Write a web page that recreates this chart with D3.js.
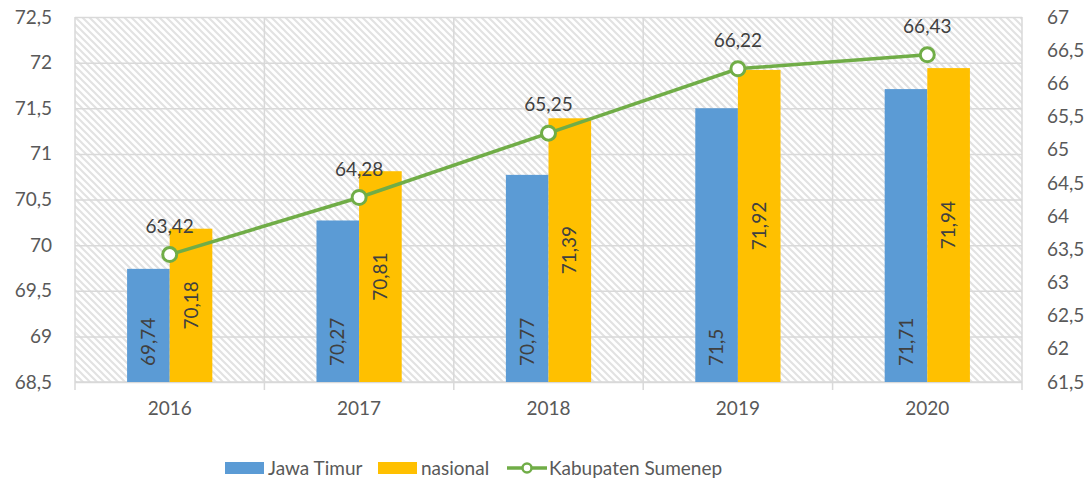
<!DOCTYPE html>
<html>
<head>
<meta charset="utf-8">
<script src="https://cdn.jsdelivr.net/npm/d3@7"></script>
<style>
  body { margin: 0; background: #fff; }
  svg text { font-family: Lato, "Open Sans", sans-serif; }
</style>
</head>
<body>
<div id="chart"></div>
<script>
// data
const years = ['2016', '2017', '2018', '2019', '2020'];
const jawaTimur = [69.74, 70.27, 70.77, 71.5, 71.71];
const nasional = [70.18, 70.81, 71.39, 71.92, 71.94];
const sumenep = [63.42, 64.28, 65.25, 66.22, 66.43];
const leftTicks = [68.5, 69, 69.5, 70, 70.5, 71, 71.5, 72, 72.5];
const rightTicks = [61.5, 62, 62.5, 63, 63.5, 64, 64.5, 65, 65.5, 66, 66.5, 67];

const width = 1092, height = 481;
const margin = {top: 17, right: 70, bottom: 99, left: 75};
const innerWidth = width - margin.left - margin.right;
const innerHeight = height - margin.top - margin.bottom;
const fontSize = '19px';

const fmt = d => String(d).replace('.', ',');

const svg = d3.select('#chart').append('svg')
  .attr('width', width)
  .attr('height', height);

// фон с диагональной штриховкой
const defs = svg.append('defs');
const pat = defs.append('pattern')
  .attr('id', 'hatch')
  .attr('patternUnits', 'userSpaceOnUse')
  .attr('width', 7).attr('height', 7);
pat.append('rect').attr('width', 7).attr('height', 7).attr('fill', '#fff');
pat.append('path')
  .attr('d', 'M-1,-1 L8,8 M-1,6 L1,8 M6,-1 L8,1')
  .attr('stroke', '#e2e2e2')
  .attr('stroke-width', 2);

const g = svg.append('g')
  .attr('transform', `translate(${margin.left},${margin.top})`);

const x = d3.scaleBand().domain(years).range([0, innerWidth]);
const xSub = d3.scaleBand().domain(['jt', 'nas'])
  .range([x.bandwidth() * 0.275, x.bandwidth() * 0.725]);
const y = d3.scaleLinear().domain([68.5, 72.5]).range([innerHeight, 0]);
const y2 = d3.scaleLinear().domain([61.5, 67]).range([innerHeight, 0]);

g.append('rect')
  .attr('width', innerWidth)
  .attr('height', innerHeight)
  .attr('fill', 'url(#hatch)');

// horizontal grid
g.append('g')
  .attr('class', 'grid-y')
  .call(d3.axisLeft(y).tickValues(leftTicks).tickSize(-innerWidth).tickFormat(''))
  .call(s => s.select('.domain').remove())
  .selectAll('line').attr('stroke', '#d9d9d9').attr('stroke-width', 1.5);

// vertical grid (category boundaries)
const bounds = years.map(d => x(d)).concat([innerWidth]);
g.append('g').selectAll('line')
  .data(bounds)
  .join('line')
  .attr('x1', d => d).attr('x2', d => d)
  .attr('y1', 0).attr('y2', innerHeight + 8)
  .attr('stroke', '#d9d9d9').attr('stroke-width', 1.5);

// left axis
g.append('g')
  .call(d3.axisLeft(y).tickValues(leftTicks).tickSize(0).tickPadding(23).tickFormat(fmt))
  .call(s => s.select('.domain').remove())
  .selectAll('text')
  .attr('fill', '#595959').style('font-size', fontSize);

// right axis
g.append('g')
  .attr('transform', `translate(${innerWidth},0)`)
  .call(d3.axisRight(y2).tickValues(rightTicks).tickSize(0).tickPadding(25).tickFormat(fmt))
  .call(s => s.select('.domain').remove())
  .selectAll('text')
  .attr('fill', '#595959').style('font-size', fontSize);

// x axis
g.append('g')
  .attr('transform', `translate(0,${innerHeight})`)
  .call(d3.axisBottom(x).tickSize(0).tickPadding(20))
  .call(s => s.select('.domain').remove())
  .selectAll('text')
  .attr('fill', '#595959').style('font-size', fontSize);

g.append('line')
  .attr('x1', 0).attr('x2', innerWidth)
  .attr('y1', innerHeight).attr('y2', innerHeight)
  .attr('stroke', '#d9d9d9').attr('stroke-width', 1.5);

// bars
const barGroups = g.append('g').selectAll('g')
  .data(years)
  .join('g')
  .attr('transform', d => `translate(${x(d)},0)`);

barGroups.append('rect')
  .attr('x', xSub('jt'))
  .attr('width', xSub.bandwidth())
  .attr('y', (d, i) => y(jawaTimur[i]))
  .attr('height', (d, i) => innerHeight - y(jawaTimur[i]))
  .attr('fill', '#5b9bd5');

barGroups.append('rect')
  .attr('x', xSub('nas'))
  .attr('width', xSub.bandwidth())
  .attr('y', (d, i) => y(nasional[i]))
  .attr('height', (d, i) => innerHeight - y(nasional[i]))
  .attr('fill', '#ffc000');

// bar labels (rotated)
barGroups.append('text')
  .attr('transform', (d, i) => `translate(${xSub('jt') + xSub.bandwidth() / 2},${innerHeight - 16}) rotate(-90)`)
  .attr('dy', '0.35em')
  .attr('text-anchor', 'start')
  .attr('fill', '#404040')
  .style('font-size', fontSize)
  .text((d, i) => fmt(jawaTimur[i]));

barGroups.append('text')
  .attr('transform', (d, i) => `translate(${xSub('nas') + xSub.bandwidth() / 2},${(y(nasional[i]) + innerHeight) / 2}) rotate(-90)`)
  .attr('dy', '0.35em')
  .attr('text-anchor', 'middle')
  .attr('fill', '#404040')
  .style('font-size', fontSize)
  .text((d, i) => fmt(nasional[i]));

// line Kabupaten Sumenep
const cx = d => x(d) + x.bandwidth() / 2;
const line = d3.line()
  .x(d => cx(d))
  .y((d, i) => y2(sumenep[i]));

g.append('path')
  .datum(years)
  .attr('d', line)
  .attr('fill', 'none')
  .attr('stroke', '#70ad47')
  .attr('stroke-width', 3.5);

g.append('g').selectAll('circle')
  .data(years)
  .join('circle')
  .attr('cx', cx)
  .attr('cy', (d, i) => y2(sumenep[i]))
  .attr('r', 7)
  .attr('fill', '#fff')
  .attr('stroke', '#70ad47')
  .attr('stroke-width', 3);

g.append('g').selectAll('text')
  .data(years)
  .join('text')
  .attr('x', cx)
  .attr('y', (d, i) => y2(sumenep[i]) - 22)
  .attr('text-anchor', 'middle')
  .attr('fill', '#404040')
  .style('font-size', fontSize)
  .text((d, i) => fmt(sumenep[i]));

// legend
const legend = svg.append('g').attr('transform', 'translate(0,468)');
legend.append('rect').attr('x', 225).attr('y', -6).attr('width', 39).attr('height', 12).attr('fill', '#5b9bd5');
legend.append('text').attr('x', 268).attr('dy', '0.35em').attr('fill', '#595959').style('font-size', fontSize).text('Jawa Timur');
legend.append('rect').attr('x', 378).attr('y', -6).attr('width', 39).attr('height', 12).attr('fill', '#ffc000');
legend.append('text').attr('x', 421).attr('dy', '0.35em').attr('fill', '#595959').style('font-size', fontSize).text('nasional');
legend.append('line').attr('x1', 507).attr('x2', 547).attr('stroke', '#70ad47').attr('stroke-width', 3.5);
legend.append('circle').attr('cx', 527).attr('r', 4.5).attr('fill', '#fff').attr('stroke', '#70ad47').attr('stroke-width', 2.5);
legend.append('text').attr('x', 549).attr('dy', '0.35em').attr('fill', '#595959').style('font-size', fontSize).text('Kabupaten Sumenep');
</script>
</body>
</html>
